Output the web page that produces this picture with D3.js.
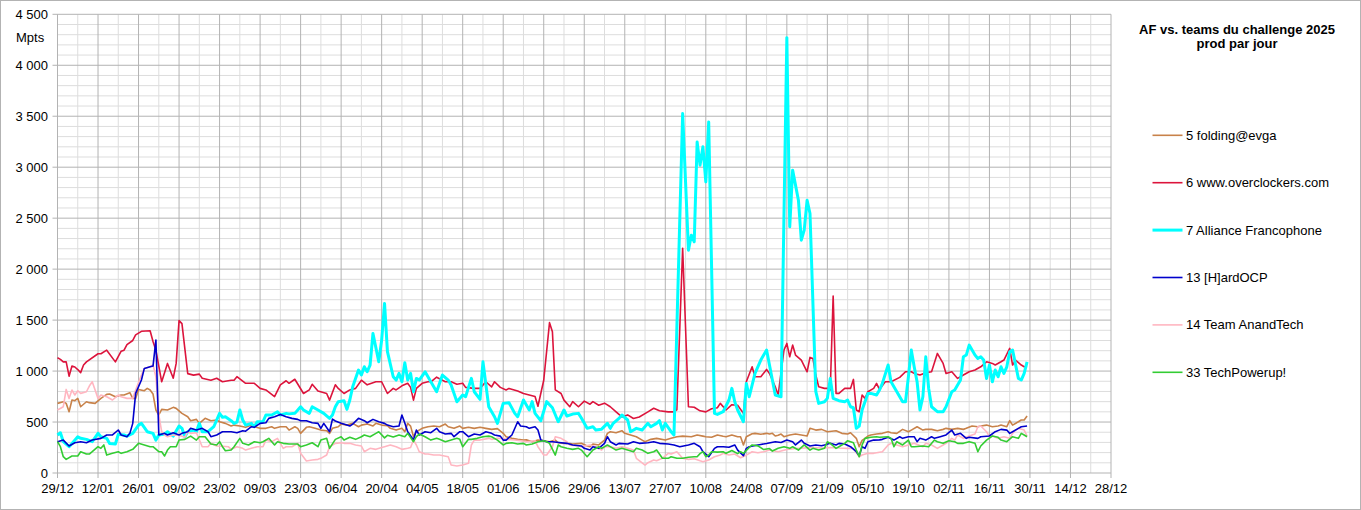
<!DOCTYPE html>
<html><head><meta charset="utf-8">
<script src="https://cdn.jsdelivr.net/npm/d3@7"></script>
<style>
html,body{margin:0;padding:0;background:#fff;}
svg{display:block;font-family:"Liberation Sans",Arial,sans-serif;}
</style></head>
<body>
<svg id="chart" width="1361" height="510"></svg>
<script>
// ---- DATA (day offset from 29/12/2024, value in Mpts) ----
const startDate = new Date(2024, 11, 29);
const endDate = new Date(2025, 11, 28);
const xTickDays = d3.range(0, 365, 14);
const yTicks = [0, 500, 1000, 1500, 2000, 2500, 3000, 3500, 4000, 4500];
const seriesNames = ["5 folding@evga", "6 www.overclockers.com", "7 Alliance Francophone", "13 [H]ardOCP", "14 Team AnandTech", "33 TechPowerup!"];
const seriesColors = ["#c8824a", "#dc143c", "#00ffff", "#0000cc", "#ffb6c1", "#33cc33"];

const foldingEvga = [[0,683],[2,699],[3,683],[4,601],[5,716],[6,709],[7,732],[8,650],[10,699],[11,690],[13,683],[15,732],[17,771],[18,775],[20,748],[22,765],[23,765],[25,788],[26,732],[27,732],[28,820],[30,807],[31,830],[32,814],[33,775],[34,618],[35,569],[36,624],[38,618],[40,644],[41,634],[43,585],[45,552],[46,513],[48,526],[49,487],[51,536],[53,513],[55,520],[56,503],[58,487],[60,461],[61,470],[63,461],[65,448],[67,470],[68,454],[70,438],[72,438],[74,454],[75,438],[77,454],[79,454],[80,421],[82,454],[83,438],[84,389],[86,448],[87,454],[89,438],[91,421],[93,415],[94,389],[95,438],[97,454],[98,480],[100,470],[102,487],[104,454],[105,470],[107,480],[109,461],[110,487],[112,470],[114,465],[115,438],[117,421],[119,438],[120,405],[121,487],[122,460],[123,356],[124,405],[126,438],[128,454],[130,461],[132,454],[134,480],[135,454],[137,438],[139,461],[140,438],[142,448],[144,438],[146,448],[148,438],[150,428],[152,435],[154,389],[155,356],[157,340],[159,330],[161,323],[162,325],[164,307],[166,323],[168,317],[170,307],[172,323],[173,297],[175,291],[177,290],[178,284],[181,291],[183,265],[184,258],[185,284],[187,275],[189,323],[190,389],[191,405],[193,395],[195,415],[196,389],[198,373],[200,356],[202,323],[203,307],[205,330],[207,340],[210,323],[212,340],[214,356],[216,362],[219,356],[221,373],[223,362],[224,356],[226,350],[228,373],[230,360],[231,356],[233,373],[235,356],[236,356],[237,275],[238,356],[240,385],[241,389],[243,380],[245,389],[246,382],[247,389],[248,363],[249,370],[250,382],[251,356],[253,373],[255,382],[257,373],[259,363],[260,438],[262,421],[264,428],[266,405],[269,415],[271,389],[273,382],[274,395],[276,340],[277,258],[278,320],[279,340],[280,363],[281,373],[283,382],[285,389],[287,405],[288,395],[290,389],[292,428],[294,405],[295,421],[297,454],[299,421],[300,428],[302,428],[304,415],[306,428],[307,438],[309,428],[311,438],[313,428],[314,438],[316,461],[318,454],[319,461],[321,470],[323,454],[325,461],[326,470],[328,454],[329,513],[330,470],[332,503],[333,520],[334,520],[335,559]];

const overclockers = [[0,1130],[1,1115],[2,1090],[3,1090],[4,950],[5,1050],[6,1040],[7,1015],[8,985],[9,1060],[10,1090],[14,1170],[15,1170],[17,1205],[20,1090],[22,1195],[23,1205],[24,1260],[26,1300],[27,1355],[29,1390],[32,1395],[33,1290],[34,1205],[36,895],[38,1075],[40,930],[41,1075],[42,1495],[43,1465],[45,975],[47,960],[49,970],[50,930],[53,910],[55,930],[57,895],[60,910],[61,910],[62,945],[65,880],[68,880],[70,830],[72,815],[75,750],[77,865],[79,905],[80,880],[82,920],[85,780],[87,815],[88,870],[90,805],[93,780],[94,715],[96,865],[97,830],[99,780],[101,815],[103,830],[105,910],[107,865],[110,895],[112,895],[114,780],[116,830],[117,815],[119,855],[121,880],[122,840],[123,715],[124,830],[126,880],[128,895],[129,895],[131,940],[133,910],[134,895],[136,895],[138,870],[140,880],[141,840],[144,830],[146,830],[148,895],[150,845],[151,895],[153,840],[155,815],[156,830],[159,805],[161,780],[163,765],[165,750],[166,655],[168,910],[170,1475],[171,1385],[172,815],[174,780],[175,715],[177,650],[178,700],[180,650],[182,705],[184,675],[185,700],[187,665],[189,685],[191,650],[193,600],[195,550],[197,570],[199,535],[201,550],[204,600],[206,635],[208,610],[211,600],[213,600],[214,620],[216,2205],[218,650],[220,645],[222,610],[224,600],[226,630],[228,640],[229,683],[231,618],[233,670],[235,665],[237,585],[238,895],[240,1042],[241,944],[243,944],[245,1016],[246,977],[248,846],[249,765],[251,1205],[252,1271],[253,1140],[254,1255],[255,1157],[257,1108],[259,993],[260,1134],[261,1124],[262,961],[263,846],[265,830],[266,830],[267,814],[268,1735],[269,781],[270,781],[272,830],[274,830],[275,918],[276,618],[277,601],[278,765],[279,732],[280,797],[282,830],[283,879],[284,820],[286,895],[288,895],[291,938],[293,993],[295,993],[296,977],[298,961],[300,984],[302,993],[304,1173],[306,1075],[307,977],[309,993],[311,928],[313,961],[315,993],[317,1010],[319,1042],[321,1091],[323,1075],[324,1059],[326,1091],[327,1108],[329,1222],[330,1059],[331,1108],[333,1059],[334,1042],[335,1042]];

const allianceFrancophone = [[0,373],[1,395],[2,307],[4,258],[5,290],[7,356],[8,340],[10,330],[12,307],[14,389],[15,356],[17,340],[18,290],[20,284],[21,379],[23,373],[24,362],[26,389],[28,470],[29,487],[31,405],[33,389],[34,323],[35,373],[37,382],[38,405],[40,362],[42,461],[43,438],[44,356],[45,405],[47,421],[48,405],[49,487],[50,405],[52,405],[54,454],[56,585],[57,546],[58,552],[60,513],[61,487],[62,500],[63,618],[64,520],[65,470],[67,487],[68,454],[69,503],[71,503],[72,569],[74,569],[76,601],[77,569],[79,585],[80,580],[82,585],[84,650],[85,618],[87,585],[88,650],[90,618],[92,585],[94,536],[95,569],[96,650],[97,700],[99,709],[100,624],[101,716],[102,846],[104,1010],[105,961],[106,1042],[107,993],[108,1059],[109,1369],[111,1091],[112,1304],[113,1663],[114,1190],[116,944],[117,912],[118,977],[119,895],[120,1082],[121,912],[122,977],[123,797],[124,928],[125,912],[127,993],[129,895],[131,797],[133,961],[135,912],[136,863],[138,699],[140,765],[141,748],[143,928],[144,797],[146,722],[147,1091],[149,650],[151,552],[152,487],[154,683],[156,690],[158,585],[159,552],[161,716],[163,618],[164,700],[165,585],[167,513],[169,700],[171,640],[173,503],[175,618],[176,559],[178,578],[180,585],[181,540],[183,438],[185,454],[186,422],[188,430],[190,487],[191,438],[192,487],[194,536],[195,569],[197,520],[198,405],[200,438],[202,422],[204,487],[205,454],[207,487],[208,513],[209,422],[210,487],[212,405],[213,373],[216,3526],[218,2186],[219,2333],[220,2268],[221,3248],[222,3020],[223,3200],[224,2856],[225,3444],[227,585],[228,575],[230,601],[232,716],[233,830],[234,699],[235,618],[237,503],[238,879],[239,748],[241,977],[243,1108],[245,1206],[248,765],[250,748],[252,4271],[253,2415],[254,2971],[256,2676],[257,2284],[258,2382],[259,2676],[260,2546],[262,800],[263,683],[265,699],[266,732],[267,928],[268,732],[270,709],[272,699],[273,716],[274,650],[275,640],[276,438],[277,460],[278,618],[280,781],[281,781],[283,765],[284,814],[285,879],[287,1059],[288,895],[290,797],[292,699],[293,699],[294,944],[295,1206],[296,1042],[297,895],[298,618],[299,748],[300,1140],[301,830],[302,650],[304,601],[306,601],[307,650],[309,797],[310,814],[312,912],[313,1140],[314,1157],[315,1255],[317,1157],[318,1124],[319,1140],[320,1108],[321,928],[322,1059],[323,895],[324,1010],[325,944],[326,1042],[327,977],[328,1042],[329,1190],[330,1206],[332,928],[333,912],[334,977],[335,1091]];

const hardOCP = [[0,307],[2,323],[4,265],[6,297],[8,307],[10,297],[12,323],[15,340],[17,373],[19,373],[21,422],[22,373],[24,356],[25,389],[26,487],[27,781],[29,912],[30,1026],[32,1042],[33,1049],[34,1304],[35,373],[37,389],[38,373],[40,395],[42,373],[43,389],[45,405],[46,438],[48,422],[50,438],[52,405],[53,356],[55,373],[57,405],[60,405],[62,395],[64,415],[65,410],[67,454],[68,448],[70,487],[72,493],[73,536],[75,552],[77,575],[79,552],[81,536],[83,526],[84,513],[86,513],[88,493],[90,487],[91,438],[92,487],[94,405],[95,529],[96,510],[98,487],[100,470],[101,461],[102,480],[104,536],[106,513],[107,493],[109,526],[111,503],[113,487],[114,470],[116,454],[118,461],[119,569],[120,490],[121,405],[123,323],[124,421],[125,373],[127,405],[129,395],[131,438],[132,405],[134,382],[136,389],[137,356],[139,405],[140,405],[142,356],[144,382],[146,373],[148,405],[150,389],[151,373],[153,362],[154,323],[155,323],[157,373],[159,503],[160,461],[162,454],[163,438],[165,454],[166,421],[167,323],[169,307],[171,307],[174,297],[176,291],[178,275],[181,265],[182,242],[184,225],[185,258],[187,242],[189,291],[190,356],[191,307],[193,275],[194,291],[197,284],[199,307],[201,291],[204,297],[206,307],[208,291],[211,284],[213,275],[215,258],[218,275],[220,291],[222,258],[223,209],[225,160],[227,242],[228,258],[230,258],[232,252],[234,275],[235,225],[237,170],[238,242],[239,258],[241,270],[243,280],[245,290],[248,307],[250,300],[252,323],[254,307],[255,275],[257,323],[258,291],[260,265],[262,275],[264,268],[265,275],[267,291],[269,275],[270,291],[272,284],[274,258],[276,209],[277,170],[278,258],[279,242],[280,307],[282,323],[284,325],[285,330],[287,350],[289,323],[291,356],[292,340],[294,356],[296,356],[297,307],[298,340],[300,323],[302,356],[303,340],[305,356],[307,373],[309,421],[310,373],[312,389],[314,340],[315,350],[318,340],[319,356],[322,363],[324,405],[326,428],[328,421],[329,389],[330,405],[332,438],[333,454],[335,461]];

const teamAnandTech = [[0,618],[2,650],[3,820],[4,732],[5,814],[6,765],[7,807],[8,781],[10,797],[11,853],[12,895],[14,732],[15,765],[17,748],[19,716],[21,765],[22,748],[24,732],[26,732],[27,814],[29,961],[30,1026],[32,1042],[33,1059],[34,944],[35,569],[36,405],[37,373],[38,356],[40,373],[42,370],[44,350],[45,405],[46,389],[48,395],[50,258],[52,258],[53,291],[55,265],[57,262],[59,258],[60,232],[62,258],[64,242],[65,225],[67,242],[69,258],[71,258],[72,323],[74,307],[76,340],[78,242],[79,258],[81,258],[83,291],[84,193],[86,118],[88,127],[90,134],[91,144],[93,176],[94,258],[96,291],[98,297],[99,291],[101,291],[103,275],[105,265],[106,209],[108,242],[110,232],[112,250],[113,258],[115,275],[117,258],[119,232],[121,242],[122,250],[123,323],[124,275],[125,209],[127,186],[128,186],[130,176],[132,176],[135,160],[136,78],[138,69],[140,78],[142,95],[143,275],[144,323],[146,323],[149,340],[150,330],[152,340],[154,340],[155,330],[158,323],[160,317],[162,307],[165,317],[166,258],[168,176],[169,176],[171,258],[172,356],[174,340],[176,307],[177,275],[180,265],[181,258],[184,275],[186,258],[188,225],[189,258],[191,258],[193,242],[195,258],[197,242],[199,225],[200,144],[203,78],[204,101],[206,127],[207,121],[209,144],[211,193],[212,186],[214,209],[216,144],[218,134],[220,140],[222,120],[223,111],[225,127],[227,160],[229,176],[230,193],[232,176],[234,186],[236,150],[238,175],[240,209],[242,199],[244,209],[246,225],[249,209],[252,230],[255,240],[258,245],[261,250],[264,245],[267,250],[270,245],[273,242],[275,240],[277,160],[278,176],[280,193],[282,193],[285,209],[287,275],[288,291],[290,275],[292,258],[294,275],[296,291],[299,258],[300,291],[302,275],[304,242],[306,275],[307,291],[309,340],[310,323],[311,373],[313,340],[315,363],[317,382],[318,454],[319,461],[321,405],[322,356],[323,363],[325,340],[327,356],[329,340],[330,389],[331,421],[332,438],[334,421],[335,363]];

const techPowerup = [[0,307],[1,258],[2,160],[3,134],[5,167],[7,167],[8,209],[10,186],[11,186],[12,209],[14,258],[15,242],[16,275],[17,176],[19,193],[21,209],[22,193],[24,209],[26,232],[28,291],[30,275],[32,258],[33,258],[35,209],[36,209],[37,167],[38,225],[39,258],[41,258],[42,323],[44,330],[46,362],[48,323],[49,356],[51,356],[53,284],[55,275],[56,307],[57,258],[58,219],[60,225],[61,258],[63,340],[64,291],[66,275],[68,307],[70,297],[71,307],[73,340],[75,275],[76,307],[78,291],[80,284],[82,284],[83,284],[84,258],[86,275],[88,297],[90,258],[91,323],[93,340],[94,242],[96,330],[98,356],[99,323],[101,350],[103,330],[105,356],[106,373],[108,356],[110,389],[111,405],[113,345],[114,370],[116,353],[118,373],[120,356],[121,389],[123,307],[124,356],[125,382],[127,356],[129,323],[131,340],[132,330],[134,307],[136,323],[138,340],[139,330],[140,258],[142,330],[143,330],[145,340],[147,356],[149,362],[150,356],[152,323],[154,275],[155,291],[157,297],[159,284],[161,291],[162,275],[164,284],[166,307],[168,317],[169,307],[170,291],[172,176],[173,275],[174,258],[176,242],[178,232],[180,242],[181,225],[183,160],[185,225],[187,258],[188,242],[190,275],[192,242],[193,225],[195,242],[197,225],[199,209],[200,242],[202,225],[204,193],[206,209],[207,225],[209,144],[211,144],[212,160],[214,144],[216,144],[218,154],[220,160],[221,160],[222,190],[223,209],[224,160],[225,176],[226,209],[228,205],[230,209],[231,193],[233,220],[235,190],[236,209],[237,193],[239,250],[240,275],[242,266],[244,230],[246,240],[247,215],[249,242],[251,258],[253,242],[254,258],[256,225],[258,275],[260,225],[261,242],[263,225],[265,242],[266,307],[267,291],[269,242],[270,258],[272,291],[273,317],[275,297],[276,225],[277,160],[278,275],[279,340],[281,350],[283,356],[284,350],[287,356],[288,340],[289,258],[290,307],[292,275],[294,323],[295,258],[296,258],[299,265],[301,258],[303,323],[304,307],[306,291],[308,317],[310,307],[311,291],[313,291],[315,307],[317,291],[318,209],[319,265],[321,323],[323,363],[325,350],[326,323],[328,307],[330,356],[332,340],[333,389],[334,373],[335,356]];

const seriesData = [foldingEvga, overclockers, allianceFrancophone, hardOCP, teamAnandTech, techPowerup];
const seriesWidths = [1.6, 1.6, 3, 1.6, 1.6, 1.6];
const drawOrder = [0, 1, 2, 4, 3, 5];

// ---- CHART ----
const svg = d3.select("#chart");
const W = 1361, H = 510;
const plot = {left: 57.5, right: 1111, top: 14.3, bottom: 473};
const font = '"Liberation Sans", Arial, sans-serif';

svg.append("rect").attr("x",0.5).attr("y",0.5).attr("width",W-1).attr("height",H-1)
  .attr("fill","#fff").attr("stroke","#b3b3b3");

const dayToDate = d => d3.timeDay.offset(startDate, d);
const x = d3.scaleTime().domain([startDate, endDate]).range([plot.left, plot.right]);
const y = d3.scaleLinear().domain([0, 4500]).range([plot.bottom, plot.top]);

const grid = svg.append("g");
d3.range(0, 4501, 100).filter(v => v % 500 !== 0).forEach(v => {
  grid.append("line").attr("x1",plot.left).attr("x2",plot.right)
    .attr("y1",y(v)).attr("y2",y(v)).attr("stroke","#dddddd").attr("stroke-width",1);
});
d3.range(7, 364, 14).forEach(d => {
  grid.append("line").attr("x1",x(dayToDate(d))).attr("x2",x(dayToDate(d)))
    .attr("y1",plot.top).attr("y2",plot.bottom).attr("stroke","#dddddd").attr("stroke-width",1);
});
yTicks.forEach(v => {
  grid.append("line").attr("x1",plot.left-5).attr("x2",plot.right)
    .attr("y1",y(v)).attr("y2",y(v)).attr("stroke","#b3b3b3").attr("stroke-width",1);
});
xTickDays.forEach(d => {
  grid.append("line").attr("x1",x(dayToDate(d))).attr("x2",x(dayToDate(d)))
    .attr("y1",plot.top).attr("y2",plot.bottom+5).attr("stroke","#b3b3b3").attr("stroke-width",1);
});

const fmtY = v => d3.format(",")(v).replace(/,/g, " ");
svg.append("g").selectAll("text").data(yTicks).join("text")
  .attr("x", 48).attr("y", v => y(v) + 4.5)
  .attr("text-anchor","end").attr("font-size","13px").attr("font-family",font).attr("fill","#000")
  .text(fmtY);
svg.append("text").attr("x",16).attr("y",42).attr("font-size","13px").attr("font-family",font)
  .attr("fill","#000").text("Mpts");

const fmtX = d3.timeFormat("%d/%m");
svg.append("g").selectAll("text").data(xTickDays).join("text")
  .attr("x", d => x(dayToDate(d))).attr("y", 493)
  .attr("text-anchor","middle").attr("font-size","13px").attr("font-family",font).attr("fill","#000")
  .text(d => fmtX(dayToDate(d)));

const line = d3.line().x(p => x(dayToDate(p[0]))).y(p => y(p[1]));
const linesG = svg.append("g");
drawOrder.forEach(i => {
  linesG.append("path").datum(seriesData[i]).attr("d", line)
    .attr("fill","none").attr("stroke", seriesColors[i]).attr("stroke-width", seriesWidths[i])
    .attr("stroke-linejoin","round");
});

svg.append("text").attr("x",1237).attr("y",33.5).attr("text-anchor","middle")
  .attr("font-size","13px").attr("font-weight","bold").attr("font-family",font).text("AF vs. teams du challenge 2025");
svg.append("text").attr("x",1237).attr("y",48).attr("text-anchor","middle")
  .attr("font-size","13px").attr("font-weight","bold").attr("font-family",font).text("prod par jour");

const legend = svg.append("g");
seriesNames.forEach((n, i) => {
  const cy = 135.3 + i * 47.4;
  legend.append("line").attr("x1",1152.5).attr("x2",1182.5).attr("y1",cy).attr("y2",cy)
    .attr("stroke", seriesColors[i]).attr("stroke-width", seriesWidths[i]);
  legend.append("text").attr("x",1186).attr("y",cy+4.5).attr("font-size","13px")
    .attr("font-family",font).attr("fill","#000").text(n);
});
</script>
</body></html>
